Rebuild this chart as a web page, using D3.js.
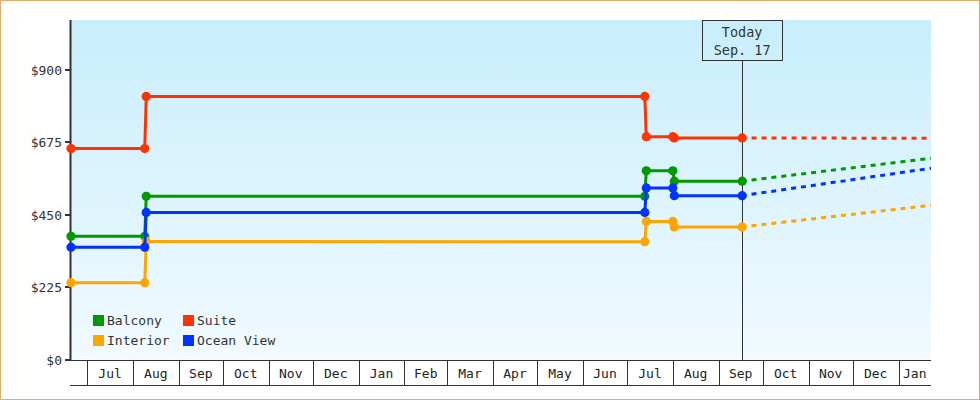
<!DOCTYPE html>
<html>
<head>
<meta charset="utf-8">
<script src="https://cdn.jsdelivr.net/npm/d3@7.9.0/dist/d3.min.js"></script>
<style>
  html, body { margin: 0; padding: 0; background: #fff; }
  svg { display: block; font-family: "DejaVu Sans Mono", monospace; }
</style>
</head>
<body>
<svg id="chart" width="980" height="400"></svg>
<script>
// price history (step points) and forecast
const seriesNames = ["Balcony", "Suite", "Interior", "Ocean View"];
const seriesColors = ["#009900", "#ff3300", "#ffa500", "#0033ff"];
const historyDates = ["2023-06-20", "2023-08-09", "2023-08-10", "2024-07-13", "2024-07-14", "2024-08-01", "2024-08-02", "2024-09-17"];
const balconyPrices = [384, 384, 508, 508, 587, 587, 555, 555];
const suitePrices = [656, 656, 818, 818, 693, 693, 689, 689];
const interiorPrices = [240, 240, 368, 367, 430, 430, 413, 413];
const oceanViewPrices = [350, 350, 458, 458, 534, 534, 510, 510];
const forecastDates = ["2024-09-17", "2025-01-23"];
const balconyForecast = [555, 626];
const suiteForecast = [689, 688];
const interiorForecast = [413, 480];
const oceanViewForecast = [510, 595];
const yTicks = [0, 225, 450, 675, 900];
const domainDates = ["2023-06-20", "2025-01-23"];
const todayDate = "2024-09-17";
const todayLabel = ["Today", "Sep. 17"];

const history = [balconyPrices, suitePrices, interiorPrices, oceanViewPrices];
const forecast = [balconyForecast, suiteForecast, interiorForecast, oceanViewForecast];

const parse = d3.utcParse("%Y-%m-%d");
const plotLeft = 71, plotRight = 931, plotTop = 20, plotBottom = 360, axisBottom = 385;

const svg = d3.select("#chart");

// outer frame
svg.append("rect")
    .attr("x", 0.5).attr("y", 0.5)
    .attr("width", 979).attr("height", 399)
    .attr("fill", "#fff")
    .attr("stroke", "#e8a966");

const defs = svg.append("defs");
const grad = defs.append("linearGradient")
    .attr("id", "bg").attr("x1", 0).attr("y1", 0).attr("x2", 0).attr("y2", 1);
grad.append("stop").attr("offset", "0%").attr("stop-color", "#c8eefc");
grad.append("stop").attr("offset", "100%").attr("stop-color", "#f1faff");

svg.append("rect")
    .attr("x", plotLeft).attr("y", plotTop)
    .attr("width", plotRight - plotLeft).attr("height", plotBottom - plotTop)
    .attr("fill", "url(#bg)");

const x = d3.scaleUtc()
    .domain(domainDates.map(parse))
    .range([plotLeft, plotRight]);

const y = d3.scaleLinear()
    .domain([0, 1055])
    .range([plotBottom, plotTop]);

// y axis
const yAxis = svg.append("g");
yAxis.append("line")
    .attr("x1", plotLeft - 0.5).attr("x2", plotLeft - 0.5)
    .attr("y1", plotTop).attr("y2", plotBottom + 1)
    .attr("stroke", "#333").attr("stroke-width", 2);
yTicks.forEach(t => {
    yAxis.append("line")
        .attr("x1", plotLeft - 6).attr("x2", plotLeft)
        .attr("y1", Math.round(y(t))).attr("y2", Math.round(y(t)))
        .attr("stroke", "#333").attr("stroke-width", 2);
    yAxis.append("text")
        .attr("x", 62).attr("y", y(t)).attr("dy", "0.35em")
        .attr("text-anchor", "end")
        .attr("font-size", 13).attr("fill", "#333")
        .text("$" + t);
});

// x axis: month cells
const xAxis = svg.append("g").attr("shape-rendering", "crispEdges");
xAxis.append("line")
    .attr("x1", plotLeft).attr("x2", plotRight)
    .attr("y1", plotBottom + 0.5).attr("y2", plotBottom + 0.5)
    .attr("stroke", "#333");
xAxis.append("line")
    .attr("x1", plotLeft - 1).attr("x2", plotRight)
    .attr("y1", axisBottom + 0.5).attr("y2", axisBottom + 0.5)
    .attr("stroke", "#333");
const [d0, d1] = x.domain();
d3.utcMonth.range(d3.utcMonth.floor(d0), d1).forEach(m => {
    const a = Math.max(x(m), plotLeft);
    const b = Math.min(x(d3.utcMonth.offset(m, 1)), plotRight);
    if (x(m) > plotLeft) {
        xAxis.append("line")
            .attr("x1", Math.round(x(m)) + 0.5).attr("x2", Math.round(x(m)) + 0.5)
            .attr("y1", plotBottom).attr("y2", axisBottom)
            .attr("stroke", "#333");
    }
    if (b - a > 25) {
        xAxis.append("text")
            .attr("x", (a + b) / 2).attr("y", (plotBottom + axisBottom) / 2 + 1)
            .attr("dy", "0.35em")
            .attr("text-anchor", "middle")
            .attr("font-size", 13).attr("fill", "#222")
            .text(d3.utcFormat("%b")(m));
    }
});

// today marker
const tx = x(parse(todayDate));
svg.append("line")
    .attr("x1", Math.round(tx) + 0.5).attr("x2", Math.round(tx) + 0.5)
    .attr("y1", 61).attr("y2", plotBottom)
    .attr("stroke", "#333");
svg.append("rect")
    .attr("x", Math.round(tx) - 39.5).attr("y", plotTop + 0.5)
    .attr("width", 80).attr("height", 40)
    .attr("fill", "none").attr("stroke", "#333");
todayLabel.forEach((t, i) => {
    svg.append("text")
        .attr("x", tx).attr("y", 37 + i * 18)
        .attr("text-anchor", "middle")
        .attr("font-size", 13.5).attr("fill", "#333")
        .text(t);
});

// series
const line = d3.line().x(d => x(d.date)).y(d => y(d.value));
const hDates = historyDates.map(parse);
const fDates = forecastDates.map(parse);

seriesNames.forEach((name, i) => {
    const g = svg.append("g");
    const color = seriesColors[i];
    const fData = forecast[i].map((v, j) => ({ date: fDates[j], value: v }));
    g.append("path")
        .datum(fData)
        .attr("d", line)
        .attr("fill", "none")
        .attr("stroke", color)
        .attr("stroke-width", 3)
        .attr("stroke-dasharray", "5,5")
        .attr("stroke-dashoffset", 0.6);
    const hData = history[i].map((v, j) => ({ date: hDates[j], value: v }));
    g.append("path")
        .datum(hData)
        .attr("d", line)
        .attr("fill", "none")
        .attr("stroke", color)
        .attr("stroke-width", 3);
    g.selectAll("circle")
        .data(hData)
        .join("circle")
        .attr("cx", d => x(d.date))
        .attr("cy", d => y(d.value))
        .attr("r", 4.6)
        .attr("fill", color);
});

// legend
const legend = svg.append("g");
seriesNames.forEach((name, i) => {
    const col = i % 2, row = Math.floor(i / 2);
    const lx = 93 + col * 90, ly = 315 + row * 20;
    legend.append("rect")
        .attr("x", lx).attr("y", ly)
        .attr("width", 11).attr("height", 11)
        .attr("fill", seriesColors[i]);
    legend.append("text")
        .attr("x", lx + 14).attr("y", ly + 5.5).attr("dy", "0.35em")
        .attr("font-size", 13).attr("fill", "#333")
        .text(name);
});
</script>
</body>
</html>
